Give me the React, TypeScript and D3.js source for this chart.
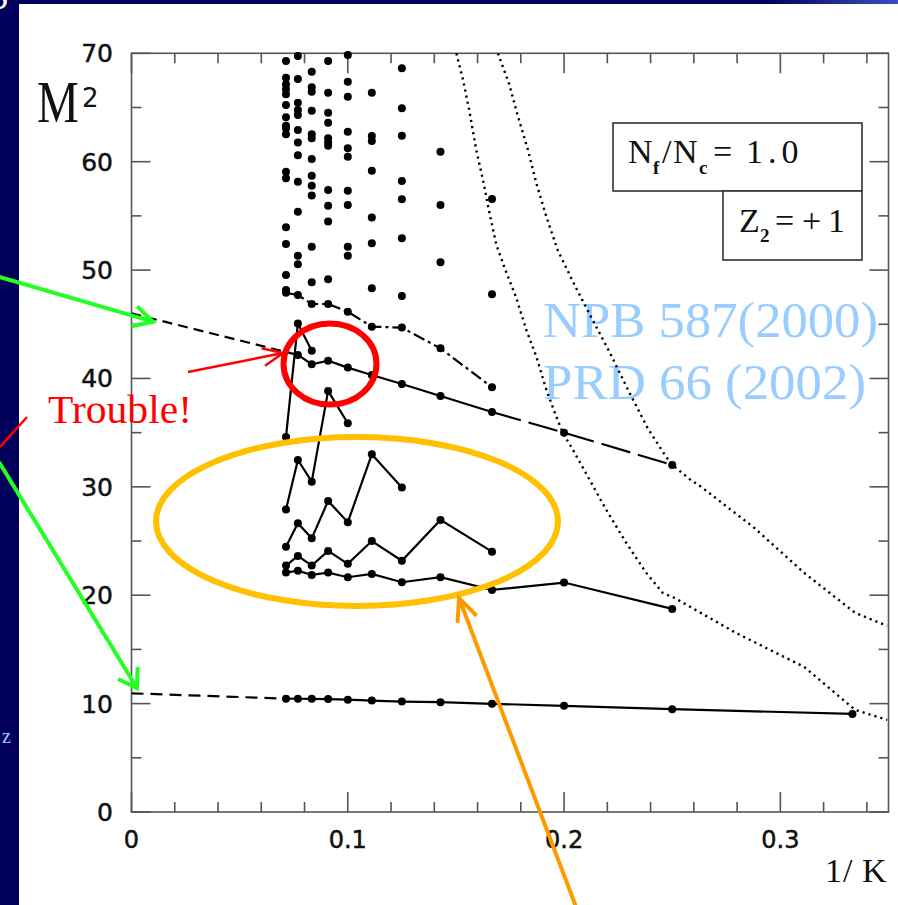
import React from 'react';
import * as d3 from 'd3';

// ---------- data ----------
// columns of 1/K are at K = 14 ... 3
const scatterK14 = [69.29, 67.75, 67.14, 66.68, 66.22, 65.23, 64.1, 63.32, 63.08, 62.53, 59.08, 58.47, 53.95, 52.41, 49.55, 48.16];
const scatterK13 = [69.75, 67.63, 65.44, 64.77, 64.3, 62.92, 61.78, 60.6, 58.15, 55.39, 51.33, 50.53];
const scatterK12 = [68.3, 66.86, 66.46, 64.71, 62.53, 62.16, 60.25, 58.71, 57.79, 56.87, 52.16, 48.87];
const scatterK11 = [69.29, 66.37, 64.52, 63.6, 62.16, 61.79, 61.48, 57.39, 55.94, 54.47, 49.15];
const scatterK10 = [69.84, 67.38, 66.0, 62.77, 61.23, 60.46, 57.32, 56.0, 52.16, 51.33];
const scatterK9 = [66.37, 62.37, 61.9, 59.17, 54.84, 52.47, 48.32];
const scatterK8 = [68.61, 64.93, 62.4, 58.22, 56.53, 52.93, 47.61];
const scatterK7 = [60.92, 56.0, 50.72];
const scatterK6 = [56.56, 47.77];

const upperK = [14, 13, 12, 11, 10, 9, 8, 7, 6];
const upperM2 = [47.9, 47.7, 46.87, 46.87, 46.16, 44.78, 44.69, 42.78, 39.19];

const mainK = [13, 12, 11, 10, 9, 8, 7, 6];
const mainM2 = [42.17, 41.31, 41.64, 41.0, 40.32, 39.49, 38.38, 36.9];
const mainTailK = [6, 5, 4];
const mainTailM2 = [36.9, 35.0, 32.02];
const mainAtZero = 46.0;

const zigAK = [14, 13, 12];
const zigAM2 = [34.6, 45.07, 42.56];
const zigBK = [14, 13, 12, 11, 10];
const zigBM2 = [27.9, 32.48, 30.48, 38.85, 35.87];
const zigCK = [14, 13, 12, 11, 10, 9, 8];
const zigCM2 = [24.48, 26.64, 25.25, 28.7, 26.73, 33.0, 29.93];
const zigDK = [14, 13, 12, 11, 10, 9, 8, 7, 6];
const zigDM2 = [22.74, 23.63, 22.74, 24.09, 22.9, 25.0, 23.18, 26.95, 24.02];
const lowK = [14, 13, 12, 11, 10, 9, 8, 7, 6, 5, 4];
const lowM2 = [22.09, 22.27, 21.87, 22.09, 21.66, 21.96, 21.2, 21.66, 20.49, 21.17, 18.74];

const groundK = [14, 13, 12, 11, 10, 9, 8, 7, 6, 5, 4, 3];
const groundM2 = [10.46, 10.45, 10.44, 10.42, 10.36, 10.28, 10.19, 10.13, 9.98, 9.8, 9.49, 9.05];
const groundAtZero = 10.95;

const boundAX = [0.1502, 0.1533, 0.1563, 0.1594, 0.1625, 0.1656, 0.1687, 0.1725, 0.1779, 0.1825, 0.1872, 0.1918, 0.1964, 0.1994, 0.2041, 0.2118, 0.2195, 0.2287, 0.238, 0.2456, 0.251, 0.2794, 0.311, 0.3346, 0.3494];
const boundAY = [70.0, 67.54, 64.59, 61.08, 58.32, 55.18, 52.32, 50.2, 47.44, 44.5, 42.0, 38.96, 36.47, 34.99, 33.42, 30.65, 27.88, 24.84, 22.06, 20.22, 19.76, 16.53, 13.39, 9.42, 8.5];
const boundBX = [0.1694, 0.1745, 0.1785, 0.1833, 0.1872, 0.1918, 0.197, 0.2053, 0.2132, 0.221, 0.2303, 0.2386, 0.2469, 0.2501, 0.258, 0.2635, 0.2875, 0.3111, 0.3346, 0.3494];
const boundBY = [70.0, 67.23, 64.31, 61.08, 58.01, 54.93, 51.86, 48.44, 45.4, 42.44, 38.66, 35.43, 32.85, 32.02, 30.72, 29.98, 26.29, 22.05, 18.37, 17.17];

const yMajorTicks = [0, 10, 20, 30, 40, 50, 60, 70];
const yMinorTicks = [5, 15, 25, 35, 45, 55, 65];
const xMajorTicks = [0, 0.1, 0.2, 0.3];
const xTickLabels = ['0', '0.1', '0.2', '0.3'];
const xMinorTicks = [0.02, 0.04, 0.06, 0.08, 0.12, 0.14, 0.16, 0.18, 0.22, 0.24, 0.26, 0.28, 0.32, 0.34];

// ---------- helpers ----------
type P = [number, number];
const pts = (ks: number[], ms: number[]): P[] => ks.map((k, i) => [1 / k, ms[i]] as P);
const zipXY = (xs: number[], ys: number[]): P[] => xs.map((v, i) => [v, ys[i]] as P);

function arrow(tail: P, tip: P, len: number, ang: number) {
  const a = Math.atan2(tail[1] - tip[1], tail[0] - tip[0]);
  const r = (ang * Math.PI) / 180;
  const b1: P = [tip[0] + len * Math.cos(a + r), tip[1] + len * Math.sin(a + r)];
  const b2: P = [tip[0] + len * Math.cos(a - r), tip[1] + len * Math.sin(a - r)];
  return `M${tail[0]},${tail[1]}L${tip[0]},${tip[1]}M${b1[0]},${b1[1]}L${tip[0]},${tip[1]}L${b2[0]},${b2[1]}`;
}

export default function App() {
  const L = 131.5, R = 888.5, T = 53.3, B = 812;
  const x = d3.scaleLinear().domain([0, 0.35]).range([L, R]);
  const y = d3.scaleLinear().domain([0, 70]).range([B, T]);
  const line = d3.line<P>().x(d => x(d[0])).y(d => y(d[1]));

  const scatter: P[] = [
    ...scatterK14.map(v => [1 / 14, v] as P),
    ...scatterK13.map(v => [1 / 13, v] as P),
    ...scatterK12.map(v => [1 / 12, v] as P),
    ...scatterK11.map(v => [1 / 11, v] as P),
    ...scatterK10.map(v => [1 / 10, v] as P),
    ...scatterK9.map(v => [1 / 9, v] as P),
    ...scatterK8.map(v => [1 / 8, v] as P),
    ...scatterK7.map(v => [1 / 7, v] as P),
    ...scatterK6.map(v => [1 / 6, v] as P),
  ];

  const upper = pts(upperK, upperM2);
  const main = pts(mainK, mainM2);
  const mainTail = pts(mainTailK, mainTailM2);
  const mainExt: P[] = [[0, mainAtZero], main[0]];
  const zigs = [pts(zigAK, zigAM2), pts(zigBK, zigBM2), pts(zigCK, zigCM2), pts(zigDK, zigDM2), pts(lowK, lowM2)];
  const ground = pts(groundK, groundM2);
  const groundExt: P[] = [[0, groundAtZero], ground[0]];
  const boundA = zipXY(boundAX, boundAY);
  const boundB = zipXY(boundBX, boundBY);

  const allDots: P[] = [...scatter, ...upper, ...main, ...mainTail.slice(1), ...zigs.flat(), ...ground];

  const axisColor = '#555';
  const tickFont = '"DejaVu Sans", sans-serif';
  const serif = '"Liberation Serif", "Times New Roman", serif';

  return (
    <svg width={898} height={905} style={{ position: 'absolute', left: 0, top: 0 }}>
      <defs>
        <linearGradient id="topg" x1="0" x2="1" y1="0" y2="0">
          <stop offset="0" stopColor="#00005a" />
          <stop offset="0.85" stopColor="#00005a" />
          <stop offset="1" stopColor="#3a4fc0" />
        </linearGradient>
        <clipPath id="plot">
          <rect x={L} y={T} width={R - L} height={B - T} />
        </clipPath>
      </defs>
      <rect x={0} y={0} width={898} height={905} fill="#00005a" />
      <rect x={0} y={0} width={898} height={5} fill="url(#topg)" />
      <rect x={19} y={4} width={879} height={901} fill="#ffffff" />
      <text x={-13} y={9} fontFamily={serif} fontSize={40} fill="#ffffff">S</text>
      <text x={2} y={743} fontFamily={serif} fontSize={20} fill="#99ccff">z</text>

      {/* reference text (behind the plot) */}
      <text x={543} y={337} fontFamily={serif} fontSize={51} fill="#99ccff" textLength={335} lengthAdjust="spacingAndGlyphs">NPB 587(2000)</text>
      <text x={543} y={399} fontFamily={serif} fontSize={51} fill="#99ccff" textLength={323} lengthAdjust="spacingAndGlyphs">PRD 66 (2002)</text>

      {/* frame */}
      <rect x={L} y={T} width={R - L} height={B - T} fill="none" stroke={axisColor} strokeWidth={1.6} />
      {yMajorTicks.map(v => (
        <g key={'ym' + v}>
          <line x1={L} x2={L + 19} y1={y(v)} y2={y(v)} stroke={axisColor} strokeWidth={1.6} />
          <line x1={R} x2={R - 19} y1={y(v)} y2={y(v)} stroke={axisColor} strokeWidth={1.6} />
          <text x={113} y={y(v) + 9} textAnchor="end" fontFamily={tickFont} fontSize={25} fill="#111" stroke="#111" strokeWidth={0.5}>{v}</text>
        </g>
      ))}
      {yMinorTicks.map(v => (
        <g key={'yn' + v}>
          <line x1={L} x2={L + 10} y1={y(v)} y2={y(v)} stroke={axisColor} strokeWidth={1.6} />
          <line x1={R} x2={R - 10} y1={y(v)} y2={y(v)} stroke={axisColor} strokeWidth={1.6} />
        </g>
      ))}
      {xMajorTicks.map((v, i) => (
        <g key={'xm' + v}>
          <line x1={x(v)} x2={x(v)} y1={B} y2={B - 20} stroke={axisColor} strokeWidth={1.6} />
          <line x1={x(v)} x2={x(v)} y1={T} y2={T + 20} stroke={axisColor} strokeWidth={1.6} />
          <text x={x(v)} y={848} textAnchor="middle" fontFamily={tickFont} fontSize={24} fill="#111" stroke="#111" strokeWidth={0.5}>{xTickLabels[i]}</text>
        </g>
      ))}
      {xMinorTicks.map(v => (
        <g key={'xn' + v}>
          <line x1={x(v)} x2={x(v)} y1={B} y2={B - 10} stroke={axisColor} strokeWidth={1.6} />
          <line x1={x(v)} x2={x(v)} y1={T} y2={T + 10} stroke={axisColor} strokeWidth={1.6} />
        </g>
      ))}

      {/* axis titles */}
      <text transform="translate(37,122) scale(1,1.25)" fontFamily={serif} fontSize={47} fill="#111">M</text>
      <text x={82} y={107} fontFamily={tickFont} fontSize={26} fill="#111">2</text>
      <text y={882} fontFamily={serif} fontSize={34} fill="#111">
        <tspan x={825}>1</tspan>
        <tspan x={843}>/</tspan>
        <tspan x={862}>K</tspan>
      </text>

      {/* curves */}
      <g clipPath="url(#plot)" fill="none" stroke="#000">
        <path d={line(boundA)!} strokeWidth={2.4} strokeDasharray="2.2,4" />
        <path d={line(boundB)!} strokeWidth={2.4} strokeDasharray="2.2,4" />
        <path d={line(upper)!} strokeWidth={2.2} strokeDasharray="12,4,3,4" />
        <path d={line(main)!} strokeWidth={2.2} />
        <path d={line(mainTail)!} strokeWidth={2.2} strokeDasharray="30,8" />
        <path d={line(mainExt)!} strokeWidth={2.2} strokeDasharray="10,6" />
        {zigs.map((z, i) => <path key={'z' + i} d={line(z)!} strokeWidth={2.2} />)}
        <path d={line(ground)!} strokeWidth={2.2} />
        <path d={line(groundExt)!} strokeWidth={2.2} strokeDasharray="12,7" />
      </g>
      <g fill="#000">
        {allDots.map((d, i) => <circle key={'d' + i} cx={x(d[0])} cy={y(d[1])} r={4} />)}
      </g>

      {/* legend boxes */}
      <g fill="none" stroke="#333" strokeWidth={1.6}>
        <rect x={613} y={123} width={249} height={68} fill="#fff" />
        <rect x={723} y={191} width={139} height={69} fill="#fff" />
      </g>
      <g fontFamily={serif} fill="#111">
        <text y={163} fontSize={34}>
          <tspan x={628}>N</tspan>
          <tspan x={653} y={174} fontSize={19} fontWeight="bold">f</tspan>
          <tspan x={662} y={163}>/</tspan>
          <tspan x={673}>N</tspan>
          <tspan x={699} y={174} fontSize={19} fontWeight="bold">c</tspan>
          <tspan x={713} y={163}>=</tspan>
          <tspan x={746} letterSpacing={5}>1.0</tspan>
        </text>
        <text y={232} fontSize={34}>
          <tspan x={739}>Z</tspan>
          <tspan x={760} y={242} fontSize={19} fontWeight="bold">2</tspan>
          <tspan x={775} y={232}>=</tspan>
          <tspan x={802}>+</tspan>
          <tspan x={828}>1</tspan>
        </text>
      </g>

      {/* slide annotations */}
      <ellipse cx={330} cy={364} rx={46.5} ry={40.5} fill="none" stroke="#ff0000" strokeWidth={6} />
      <ellipse cx={357} cy={521.5} rx={201} ry={84.5} fill="none" stroke="#ffc000" strokeWidth={6} />
      <path d={arrow([188, 372], [283, 353], 22, 24)} fill="none" stroke="#ff0000" strokeWidth={2.5} />
      <path d="M0,447L27,417" stroke="#ff0000" strokeWidth={2.5} />
      <text x={48} y={423} fontFamily={serif} fontSize={41} fill="#ff0000" textLength={144} lengthAdjust="spacingAndGlyphs">Trouble!</text>
      <path d={arrow([-2, 276.5], [153, 321.7], 22, 28)} fill="none" stroke="#22ff22" strokeWidth={4} />
      <path d={arrow([-1, 462], [137, 688], 21, 33)} fill="none" stroke="#22ff22" strokeWidth={4} />
      <path d={arrow([578, 912], [459, 598], 25, 24)} fill="none" stroke="#ff9900" strokeWidth={4} />
    </svg>
  );
}
